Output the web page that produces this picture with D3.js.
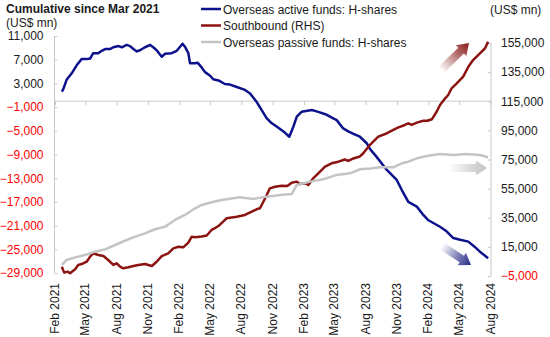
<!DOCTYPE html>
<html>
<head>
<meta charset="utf-8">
<script src="https://cdn.jsdelivr.net/npm/d3@7/dist/d3.min.js"></script>
<style>
  html, body { margin: 0; padding: 0; background: #fff; }
  svg { display: block; font-family: "Liberation Sans", Arial, sans-serif; }
</style>
</head>
<body>
<svg id="chart" width="550" height="337"></svg>
<script>
// Overseas active funds in H-shares, cumulative US$ mn (left axis)
const activeDates = ["2021-02-21","2021-02-25","2021-03-07","2021-03-22","2021-04-06","2021-04-20","2021-05-05","2021-05-15","2021-05-24","2021-06-08","2021-06-18","2021-06-28","2021-07-12","2021-07-22","2021-08-06","2021-08-16","2021-08-30","2021-09-09","2021-09-19","2021-09-29","2021-10-08","2021-10-23","2021-11-07","2021-11-16","2021-11-26","2021-12-11","2021-12-21","2022-01-09","2022-01-24","2022-02-10","2022-02-17","2022-02-27","2022-03-04","2022-03-19","2022-03-26","2022-04-07","2022-04-17","2022-05-02","2022-05-11","2022-05-26","2022-06-05","2022-06-14","2022-06-29","2022-07-19","2022-08-12","2022-08-27","2022-09-15","2022-09-30","2022-10-15","2022-10-29","2022-11-18","2022-12-07","2022-12-20","2023-01-01","2023-01-11","2023-01-25","2023-02-24","2023-03-15","2023-04-09","2023-04-28","2023-05-08","2023-05-27","2023-06-11","2023-06-26","2023-07-15","2023-08-04","2023-08-14","2023-09-02","2023-10-02","2023-10-31","2023-11-15","2023-12-04","2023-12-29","2024-01-17","2024-02-01","2024-03-06","2024-03-26","2024-04-14","2024-05-04","2024-05-28","2024-06-16","2024-07-01","2024-07-25"];
const activeValues = [1600,2000,3600,4700,6100,7100,7100,7200,8100,8100,8500,8800,8800,9100,9300,9100,9500,9300,8800,8400,8600,9100,9500,9100,8600,7500,8000,8100,8500,9700,9200,8100,6400,6400,6500,5700,4900,4300,3700,3500,3200,2900,2800,2400,1900,1300,-100,-1500,-2900,-3700,-4500,-5300,-6000,-4300,-2600,-1800,-1500,-1800,-2300,-2900,-3200,-4600,-5100,-5500,-6000,-7100,-8100,-9400,-11600,-13300,-15000,-17000,-17800,-19200,-20100,-21200,-22000,-23100,-23400,-23700,-24600,-25400,-26500];

// Southbound flows, cumulative US$ mn (right axis)
const southboundDates = ["2021-02-21","2021-02-28","2021-03-10","2021-03-17","2021-04-01","2021-04-10","2021-04-20","2021-05-05","2021-05-15","2021-05-24","2021-06-08","2021-06-23","2021-07-07","2021-07-22","2021-08-01","2021-08-11","2021-08-20","2021-09-04","2021-09-19","2021-10-03","2021-10-23","2021-11-12","2021-11-26","2021-12-11","2021-12-30","2022-01-14","2022-01-29","2022-02-12","2022-02-27","2022-03-09","2022-03-19","2022-04-07","2022-04-22","2022-05-06","2022-05-16","2022-05-26","2022-06-09","2022-06-19","2022-07-19","2022-08-12","2022-09-01","2022-09-15","2022-09-25","2022-10-05","2022-10-15","2022-10-24","2022-11-08","2022-11-28","2022-12-14","2022-12-27","2023-01-11","2023-01-20","2023-02-04","2023-02-14","2023-02-28","2023-03-15","2023-04-04","2023-04-23","2023-05-13","2023-06-01","2023-06-11","2023-06-26","2023-07-15","2023-07-25","2023-08-09","2023-08-23","2023-09-07","2023-09-27","2023-10-21","2023-11-05","2023-11-24","2023-12-04","2023-12-14","2023-12-29","2024-01-17","2024-01-29","2024-02-11","2024-02-25","2024-03-06","2024-03-21","2024-03-30","2024-04-09","2024-04-24","2024-05-13","2024-05-28","2024-06-11","2024-07-01","2024-07-16","2024-07-25"];
const southboundValues = [1400,-2700,-2000,-3100,-400,2600,3200,4800,8300,10600,9400,8700,6000,2600,3700,1400,300,1000,1900,2600,3200,1900,4800,8700,10600,14000,15100,14700,17900,22000,21600,22100,22800,26600,27800,29300,32300,34600,35700,36900,39200,40800,41500,46000,50600,55200,56300,57000,56800,59100,59800,58200,58700,57500,62100,65500,70100,72400,73500,75000,74000,75700,77100,79300,83800,87200,90700,92500,95300,97100,98700,99900,98700,100300,101600,101600,102600,107800,112400,117000,119300,123900,127300,131900,138700,143300,147900,151400,155900];

// Overseas passive funds in H-shares, cumulative US$ mn (right axis)
const passiveDates = ["2021-02-21","2021-03-07","2021-04-01","2021-04-30","2021-05-29","2021-06-28","2021-07-27","2021-08-25","2021-09-24","2021-10-23","2021-11-21","2021-12-21","2022-01-19","2022-02-17","2022-03-19","2022-04-07","2022-05-06","2022-06-05","2022-06-19","2022-07-28","2022-09-05","2022-10-15","2022-11-23","2022-12-27","2023-01-11","2023-02-19","2023-03-30","2023-05-08","2023-06-16","2023-07-15","2023-08-14","2023-09-12","2023-10-21","2023-11-15","2023-12-04","2023-12-29","2024-01-27","2024-03-06","2024-04-14","2024-05-23","2024-07-01","2024-07-25"];
const passiveValues = [2600,6000,7800,9400,11700,13300,16300,19200,22000,24300,27100,28900,33500,36900,41500,43800,45600,47200,47700,49000,47900,49500,50600,51300,57500,59800,61400,64400,65500,68300,68800,69600,69600,72400,73500,75800,77400,78800,78100,78800,78100,76500];

// Axis ticks and labels
const xTickDates = ["2021-02-01","2021-05-01","2021-08-01","2021-11-01","2022-02-01","2022-05-01","2022-08-01","2022-11-01","2023-02-01","2023-05-01","2023-08-01","2023-11-01","2024-02-01","2024-05-01","2024-08-01"];
const xTickLabels = ["Feb 2021","May 2021","Aug 2021","Nov 2021","Feb 2022","May 2022","Aug 2022","Nov 2022","Feb 2023","May 2023","Aug 2023","Nov 2023","Feb 2024","May 2024","Aug 2024"];
const leftTicks = [11000,7000,3000,-1000,-5000,-9000,-13000,-17000,-21000,-25000,-29000];
const rightTicks = [155000,135000,115000,95000,75000,55000,35000,15000,-5000];
const seriesNames = ["Overseas active funds: H-shares","Southbound (RHS)","Overseas passive funds: H-shares"];
const seriesColors = ["#0c128c","#8b1412","#c4c4c4"];

const parse = d3.timeParse("%Y-%m-%d");
const fmt = d3.format(",");
const svg = d3.select("#chart");

const x = d3.scaleTime().domain([parse("2021-02-01"), parse("2024-08-01")]).range([55, 490.5]);
const yL = d3.scaleLinear().domain([-29000, 11000]).range([273, 36]);
const yR = d3.scaleLinear().domain([-5000, 155000]).range([276, 43]);

const axisColor = "#c8c8c8";

// Left axis
const gL = svg.append("g").attr("transform", "translate(54.5,0)")
  .call(d3.axisLeft(yL).tickValues(leftTicks).tickSize(-3).tickPadding(11).tickFormat(fmt));
gL.select(".domain").attr("stroke", axisColor).attr("d", `M0,${yL(11000)}V${yL(-29000)}`);
gL.selectAll(".tick line").attr("stroke", axisColor);
gL.selectAll(".tick text")
  .attr("font-size", 12)
  .attr("font-family", "Liberation Sans, Arial, sans-serif")
  .attr("fill", d => d < 0 ? "#ff0000" : "#1a1a1a");

// Right axis
const gR = svg.append("g").attr("transform", "translate(491,0)")
  .call(d3.axisRight(yR).tickValues(rightTicks).tickSize(-3).tickPadding(10).tickFormat(fmt));
gR.select(".domain").attr("stroke", axisColor).attr("d", `M0,${yR(155000)}V${yR(-5000)}`);
gR.selectAll(".tick line").attr("stroke", axisColor);
gR.selectAll(".tick text")
  .attr("font-size", 12)
  .attr("font-family", "Liberation Sans, Arial, sans-serif")
  .attr("fill", d => d < 0 ? "#ff0000" : "#1a1a1a");

// Horizontal category axis crossing at zero on the left scale
const y0 = yL(0);
const gX = svg.append("g").attr("transform", `translate(0,${y0})`)
  .call(d3.axisBottom(x).tickValues(xTickDates.map(parse)).tickSize(4).tickFormat(""));
gX.select(".domain").attr("stroke", axisColor).attr("d", `M54.5,0H491`);
gX.selectAll(".tick line").attr("stroke", axisColor);

// Rotated date labels along the bottom
svg.append("g").selectAll("text")
  .data(xTickDates)
  .join("text")
  .attr("transform", d => `translate(${x(parse(d)) + 4},283) rotate(-90)`)
  .attr("text-anchor", "end")
  .attr("font-size", 12)
  .attr("fill", "#1a1a1a")
  .text((d, i) => xTickLabels[i]);

// Series lines
const lineL = d3.line().x(d => x(d[0])).y(d => yL(d[1]));
const lineR = d3.line().x(d => x(d[0])).y(d => yR(d[1]));
const zip = (ds, vs) => ds.map((d, i) => [parse(d), vs[i]]);

svg.append("path").datum(zip(activeDates, activeValues))
  .attr("d", lineL).attr("fill", "none").attr("stroke", seriesColors[0])
  .attr("stroke-width", 2.5).attr("stroke-linejoin", "round");
svg.append("path").datum(zip(southboundDates, southboundValues))
  .attr("d", lineR).attr("fill", "none").attr("stroke", seriesColors[1])
  .attr("stroke-width", 2.5).attr("stroke-linejoin", "round");
svg.append("path").datum(zip(passiveDates, passiveValues))
  .attr("d", lineR).attr("fill", "none").attr("stroke", seriesColors[2])
  .attr("stroke-width", 2.5).attr("stroke-linejoin", "round");

// Direction arrows with fading fill
const defs = svg.append("defs");
const arrows = [
  { id: "arRed", from: [441, 70], to: [469, 43], color: "#8b1a1a" },
  { id: "arGray", from: [449, 168], to: [487, 168], color: "#c2c2c2" },
  { id: "arBlue", from: [442, 246], to: [471, 265], color: "#262a86" }
];
arrows.forEach(a => {
  const g = defs.append("linearGradient").attr("id", a.id)
    .attr("x1", "0%").attr("x2", "100%").attr("y1", "0%").attr("y2", "0%");
  g.append("stop").attr("offset", "0%").attr("stop-color", a.color).attr("stop-opacity", 0);
  g.append("stop").attr("offset", "55%").attr("stop-color", a.color).attr("stop-opacity", 0.6);
  g.append("stop").attr("offset", "100%").attr("stop-color", a.color).attr("stop-opacity", 1);
  const dx = a.to[0] - a.from[0], dy = a.to[1] - a.from[1];
  const L = Math.hypot(dx, dy), ang = Math.atan2(dy, dx) * 180 / Math.PI;
  const sw = 4, hw = 7.5, hl = 11;
  const pts = [[0, -sw], [L - hl, -sw], [L - hl, -hw], [L, 0], [L - hl, hw], [L - hl, sw], [0, sw]];
  svg.append("path")
    .attr("transform", `translate(${a.from[0]},${a.from[1]}) rotate(${ang})`)
    .attr("d", "M" + pts.map(p => p.join(",")).join("L") + "Z")
    .attr("fill", `url(#${a.id})`);
});

// Titles and units
svg.append("text").attr("x", 6).attr("y", 13).attr("font-size", 12).attr("font-weight", "bold")
  .attr("fill", "#1a1a1a").text("Cumulative since Mar 2021");
svg.append("text").attr("x", 6).attr("y", 27).attr("font-size", 12)
  .attr("fill", "#1a1a1a").text("(US$ mn)");
svg.append("text").attr("x", 490).attr("y", 14).attr("font-size", 12)
  .attr("fill", "#1a1a1a").text("(US$ mn)");

// Legend
const legendY = [9, 25.5, 42];
seriesNames.forEach((name, i) => {
  svg.append("line").attr("x1", 201).attr("x2", 221).attr("y1", legendY[i]).attr("y2", legendY[i])
    .attr("stroke", seriesColors[i]).attr("stroke-width", 2.5);
  svg.append("text").attr("x", 223).attr("y", legendY[i] + 4.5).attr("font-size", 12)
    .attr("fill", "#1a1a1a").text(name);
});
</script>
</body>
</html>
